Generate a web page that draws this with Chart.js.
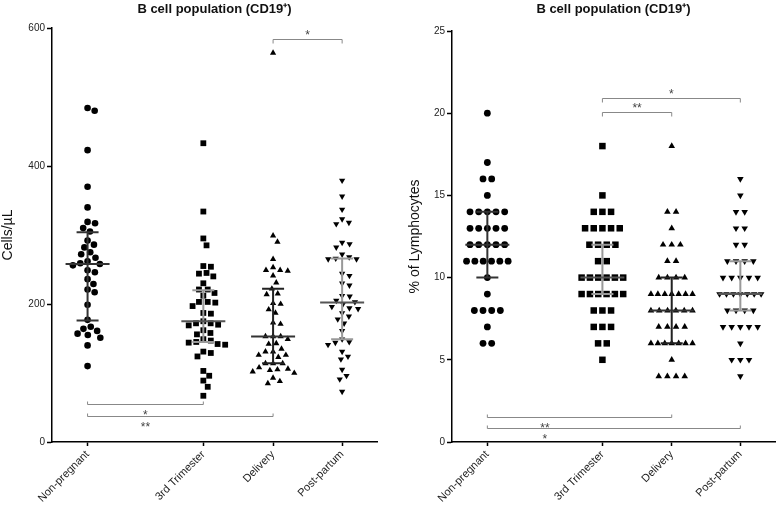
<!DOCTYPE html>
<html>
<head>
<meta charset="utf-8">
<script src="https://cdn.jsdelivr.net/npm/chart.js@4.4.0/dist/chart.umd.min.js"></script>
<style>
  body { margin: 0; background: #fff; }
  #wrap { position: relative; width: 778px; height: 506px; }
  canvas { position: absolute; top: 0; }
</style>
</head>
<body>
<div id="wrap">
  <canvas id="cells" width="390" height="506" style="left:0"></canvas>
  <canvas id="pct" width="388" height="506" style="left:390px"></canvas>
</div>
<script>
// groups on the x axis (there is a wider gap after Non-pregnant)
const cats = ['Non-pregnant', '3rd Trimester', 'Delivery', 'Post-partum'];
const catX = [0, 1.66, 2.66, 3.65];

// B cells, cells/uL
const cellsNP = [484, 480, 423, 370, 340, 319, 317, 310, 305, 292, 286, 282, 275, 272, 267, 262, 259, 258, 256, 249, 246, 236, 229, 221, 217, 199, 177, 167, 164, 161, 157, 155, 151, 140, 110];
const cells3rd = [433, 334, 295, 285, 255, 254, 245, 244, 240, 230, 221, 221, 216, 212, 203, 203, 202, 197, 187, 186, 175, 172, 172, 170, 169, 162, 158, 156, 149, 147, 145, 144, 142, 141, 131, 129, 124, 103, 96, 89, 80, 67];
const cellsDel = [564, 299, 290, 265, 253, 249, 249, 248, 241, 231, 222, 215, 214, 201, 200, 192, 187, 173, 171, 153, 153, 153, 149, 143, 142, 135, 131, 131, 126, 126, 123, 114, 114, 114, 108, 106, 105, 104, 102, 100, 93, 88, 85];
const cellsPP = [379, 356, 337, 323, 318, 316, 289, 287, 282, 272, 268, 266, 265, 265, 244, 241, 230, 227, 212, 211, 205, 203, 200, 196, 194, 193, 187, 182, 178, 172, 161, 149, 145, 144, 141, 131, 124, 120, 105, 96, 91, 73];
const cellsMedian = [258, 175, 153, 202];
const cellsQ1 = [176, 145, 114, 149];
const cellsQ3 = [304, 220, 222, 266];
const cellsTicks = [0, 200, 400, 600];

// B cells, % of lymphocytes
const pctNP = [20, 17, 16, 16, 15, 14, 14, 14, 14, 14, 13, 13, 13, 13, 13, 12, 12, 12, 12, 12, 11, 11, 11, 11, 11, 11, 10, 9, 8, 8, 8, 8, 7, 6, 6];
const pct3rd = [18, 15, 14, 14, 14, 13, 13, 13, 13, 13, 12, 12, 12, 12, 11, 11, 10, 10, 10, 10, 10, 10, 9, 9, 9, 9, 9, 9, 8, 8, 8, 7, 7, 7, 6, 6, 5];
const pctDel = [18, 14, 14, 13, 12, 12, 12, 11, 11, 10, 10, 10, 10, 9, 9, 9, 9, 9, 9, 9, 8, 8, 8, 8, 8, 8, 7, 7, 7, 7, 6, 6, 6, 6, 6, 6, 6, 5, 4, 4, 4, 4];
const pctPP = [16, 15, 14, 14, 13, 13, 12, 12, 11, 11, 11, 11, 10, 10, 10, 10, 10, 9, 9, 9, 9, 9, 9, 9, 8, 8, 8, 8, 7, 7, 7, 7, 7, 6, 5, 5, 5, 4];
const pctMedian = [12, 10, 8, 9];
const pctQ1 = [10, 9, 6, 8];
const pctQ3 = [14, 12, 10, 11];
const pctTicks = [0, 5, 10, 15, 20, 25];

// significance brackets: [from group, to group, y value, stars, label between groups]
const cellsSig = [[2, 3, 584, '*', 2, 3], [0, 1, 55, '*', 0, 1], [0, 2, 37, '**', 0, 1]];
const pctSig = [[1, 3, 20.9, '*', 1, 3], [1, 2, 20.1, '**', 1, 2], [0, 2, 1.5, '**', 0, 1], [0, 3, 0.85, '*', 0, 1]];

const barCol = ['#333', '#999', '#222', '#999'];
const FONT = '"Liberation Sans", Arial, sans-serif';
const PX_PER_X = 69.7;

// beeswarm: push each point sideways until it no longer overlaps (pixel space)
function beeswarm(vals, cx, pxY, D) {
  const placed = [];
  return vals.slice().sort((a, b) => b - a).map(v => {
    const yp = v * pxY;
    const near = placed.filter(p => Math.abs(p.yp - yp) < D);
    const cands = [0];
    near.forEach(p => {
      const dx = Math.sqrt(D * D - (p.yp - yp) ** 2);
      cands.push(p.xo + dx, p.xo - dx);
    });
    cands.sort((a, b) => Math.abs(a) - Math.abs(b));
    const xo = cands.find(c => near.every(p => (c - p.xo) ** 2 + (p.yp - yp) ** 2 >= D * D - 0.01));
    placed.push({ xo, yp });
    return { x: cx + xo / PX_PER_X, y: v };
  });
}

// equal values in a centred row
function rows(vals, cx, step, maxHalf) {
  const pts = [];
  [...new Set(vals)].forEach(v => {
    const n = vals.filter(u => u === v).length;
    let s = step;
    if (n > 1 && (n - 1) * s / 2 > maxHalf) s = 2 * maxHalf / (n - 1);
    for (let k = 0; k < n; k++) pts.push({ x: cx + (k - (n - 1) / 2) * s, y: v });
  });
  return pts;
}

const dotPlot = {
  id: 'dotPlot',
  afterDatasetsDraw(chart, args, o) {
    const { ctx, chartArea } = chart;
    const x = chart.scales.x, y = chart.scales.y;
    ctx.save();
    o.median.forEach((m, i) => {
      const cx = x.getPixelForValue(catX[i]);
      const ym = y.getPixelForValue(m), y1 = y.getPixelForValue(o.q1[i]), y3 = y.getPixelForValue(o.q3[i]);
      ctx.strokeStyle = barCol[i];
      ctx.lineWidth = 2;
      ctx.beginPath();
      ctx.moveTo(cx, y1); ctx.lineTo(cx, y3);
      ctx.moveTo(cx - 11, y1); ctx.lineTo(cx + 11, y1);
      ctx.moveTo(cx - 11, y3); ctx.lineTo(cx + 11, y3);
      ctx.stroke();
      ctx.strokeStyle = i % 2 ? '#555' : '#333';
      ctx.beginPath();
      ctx.moveTo(cx - 22, ym); ctx.lineTo(cx + 22, ym);
      ctx.stroke();
    });
    // brackets
    ctx.strokeStyle = '#888';
    ctx.fillStyle = '#444';
    ctx.lineWidth = 1;
    ctx.font = '12px ' + FONT;
    ctx.textAlign = 'center';
    ctx.textBaseline = 'middle';
    const mid = (y.max + y.min) / 2;
    o.sig.forEach(([a, b, v, t, la, lb]) => {
      const xa = x.getPixelForValue(catX[a]), xb = x.getPixelForValue(catX[b]);
      const py = Math.round(y.getPixelForValue(v)) + 0.5;
      const top = v > mid;
      const d = top ? 4 : -3;
      ctx.beginPath();
      ctx.moveTo(xa, py + d); ctx.lineTo(xa, py); ctx.lineTo(xb, py); ctx.lineTo(xb, py + d);
      ctx.stroke();
      const lx = (x.getPixelForValue(catX[la]) + x.getPixelForValue(catX[lb])) / 2;
      ctx.fillText(t, lx, top ? py - 4 : py + 11);
    });
    // title
    ctx.fillStyle = '#111';
    ctx.font = 'bold 13px ' + FONT;
    ctx.fillText('B cell population (CD19\u207A)', (chartArea.left + chartArea.right) / 2, 9);
    ctx.restore();
  }
};

function makeChart(id, pointSets, yMax, yTicks, yTitle, sizes, pad, yWidth, plot) {
  const styles = ['circle', 'rect', 'triangle', 'triangle'];
  const datasets = pointSets.map((pts, i) => ({
    data: pts,
    pointStyle: styles[i],
    rotation: i === 3 ? 180 : 0,
    pointRadius: sizes[i],
    pointHoverRadius: sizes[i],
    backgroundColor: '#000',
    borderColor: '#000',
    borderWidth: 0
  }));
  return new Chart(document.getElementById(id), {
    type: 'scatter',
    data: { datasets },
    options: {
      responsive: false,
      animation: false,
      devicePixelRatio: 1,
      layout: { padding: pad, autoPadding: false },
      plugins: { legend: { display: false }, tooltip: { enabled: false }, dotPlot: plot },
      scales: {
        x: {
          type: 'linear', min: -0.51, max: 4.15,
          afterBuildTicks: s => { s.ticks = catX.map(v => ({ value: v })); },
          afterFit: s => { s.height = 64; },
          ticks: {
            autoSkip: false, minRotation: 45, maxRotation: 45, padding: 2,
            color: '#222', font: { family: FONT, size: 11 },
            callback: (v, i) => cats[i]
          },
          grid: { drawOnChartArea: false, drawTicks: true, tickLength: 4, tickColor: '#000', tickWidth: 1.5 },
          border: { display: true, color: '#000', width: 1.5 }
        },
        y: {
          min: 0, max: yMax,
          afterBuildTicks: s => { s.ticks = yTicks.map(v => ({ value: v })); },
          afterFit: s => { s.width = yWidth; },
          ticks: { color: '#222', padding: 2, font: { family: FONT, size: 10 } },
          grid: { drawOnChartArea: false, drawTicks: true, tickLength: 5, tickColor: '#000', tickWidth: 1.5 },
          border: { display: true, color: '#000', width: 1.5 },
          title: { display: true, text: yTitle, color: '#111', padding: yTitle[0] === '%' ? { top: 17, bottom: 0 } : 0, font: { family: FONT, size: 14 } }
        }
      }
    },
    plugins: [dotPlot]
  });
}

const cellsPts = [cellsNP, cells3rd, cellsDel, cellsPP].map((g, i) => beeswarm(g, catX[i], 0.69, 7.6));
const pctPts = [pctNP, pct3rd, pctDel, pctPP].map((g, i) => rows(g, catX[i], 0.125, 0.3));

makeChart('cells', cellsPts, 600, cellsTicks, 'Cells/\u00B5L',
  [3.3, 4.1, 3.6, 3.6], { top: 28, left: 0, right: 13, bottom: 0 }, 52,
  { median: cellsMedian, q1: cellsQ1, q3: cellsQ3, sig: cellsSig });

makeChart('pct', pctPts, 25, pctTicks, '% of Lymphocytes',
  [3.4, 4.6, 3.8, 3.8], { top: 31, left: 0, right: 3, bottom: 0 }, 62,
  { median: pctMedian, q1: pctQ1, q3: pctQ3, sig: pctSig });
</script>
</body>
</html>
